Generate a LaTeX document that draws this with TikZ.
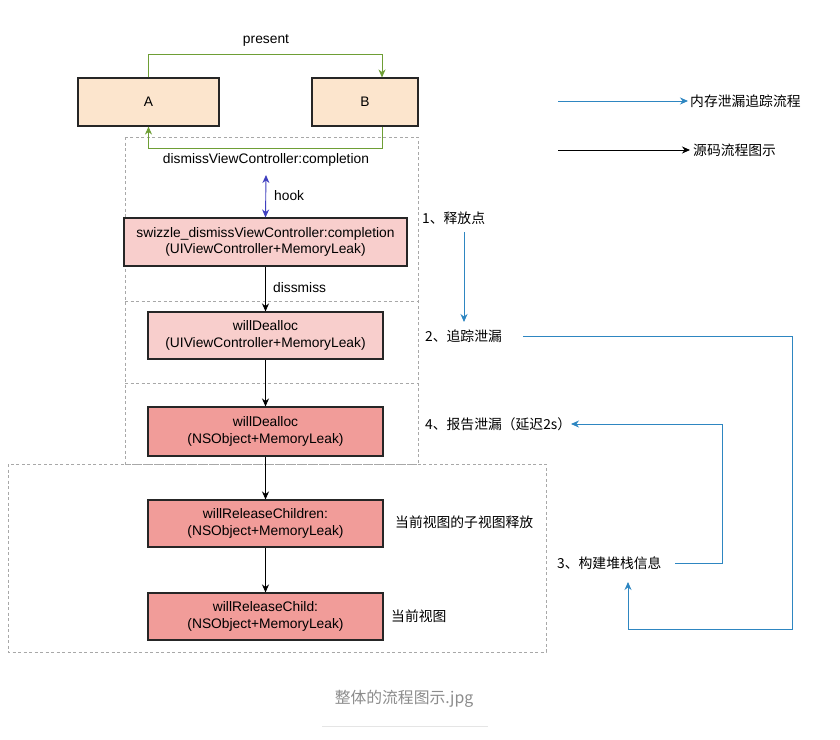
\documentclass[tikz,border=0pt]{standalone}
\usepackage{fontspec}
\setmainfont{Liberation Sans}
\newfontfamily\cjk{Noto Sans CJK SC}
\usetikzlibrary{arrows.meta,calc}
\definecolor{peach}{HTML}{FCE5CD}
\definecolor{lightred}{HTML}{F8CECC}
\definecolor{midred}{HTML}{F19C99}
\definecolor{grn}{HTML}{6E9E35}
\definecolor{hookc}{HTML}{3F3FBF}
\definecolor{flowblue}{HTML}{2E86C1}
\definecolor{dashgray}{HTML}{A8A8A8}
\tikzset{
  box/.style={draw=black!85, line width=1.1pt, minimum width=235pt, minimum height=47pt, inner sep=0pt, align=center, font=\fontsize{13.8}{16.5}\selectfont},
  txt/.style={font=\fontsize{13.8}{16.5}\selectfont, inner sep=0pt},
  ctxt/.style={font=\cjk\fontsize{13.8}{16.5}\selectfont, inner sep=0pt, anchor=west},
  tip/.style={-{Stealth[length=8pt,width=7pt]}},
  region/.style={draw=dashgray, line width=0.7pt, dash pattern=on 3pt off 2.5pt},
  blueline/.style={draw=flowblue, line width=0.9pt},
}
\begin{document}
\begin{tikzpicture}[x=1pt,y=-1pt]
\useasboundingbox (0,0) rectangle (840,739);
\fill[white] (0,0) rectangle (840,739);
% dashed regions
\draw[region] (125,137) rectangle (418,464);
\draw[region] (125,301) -- (418,301);
\draw[region] (125,383) -- (418,383);
\draw[region] (8,464) rectangle (546,652);
% A, B
\node[box, fill=peach, minimum width=141pt, minimum height=48pt] (A) at (148.5,102) {A};
\node[box, fill=peach, minimum width=106pt, minimum height=48pt] (B) at (365,102) {B};
\node[txt] (present) at (266,40) {present};
\draw[grn, line width=0.9pt, tip] (A.north) -- ++(0,-23) -| ([xshift=17pt]B.north);
\draw[grn, line width=0.9pt, tip] ([xshift=17pt]B.south) -- ++(0,22) -| (A.south);
\node[txt] (D) at (266,160) {dismissViewController:completion};
% chain
\node[box, fill=lightred, minimum width=283pt, minimum height=48pt] (S) at (265.5,242) {swizzle\_dismissViewController:completion\\(UIViewController+MemoryLeak)};
\node[box, fill=lightred] (W1) at (265.5,335.5) {willDealloc\\(UIViewController+MemoryLeak)};
\node[box, fill=midred, minimum height=49pt] (W2) at (265.5,431.5) {willDealloc\\(NSObject+MemoryLeak)};
\node[box, fill=midred] (R1) at (265.5,523.5) {willReleaseChildren:\\(NSObject+MemoryLeak)};
\node[box, fill=midred] (R2) at (265.5,616.5) {willReleaseChild:\\(NSObject+MemoryLeak)};
\coordinate (h1) at (266,175);
\draw[hookc, line width=0.9pt, {Stealth[length=8pt,width=7pt]}-{Stealth[length=8pt,width=7pt]}] (h1) -- (S.north);
\node[txt, anchor=west] (hook) at (274,196) {hook};
\node[txt, anchor=west] (dm) at (273,288) {dissmiss};
\draw[black, line width=1pt, tip] (S) -- (W1);
\draw[black, line width=1pt, tip] (W1) -- (W2);
\draw[black, line width=1pt, tip] (W2) -- (R1);
\draw[black, line width=1pt, tip] (R1) -- (R2);
% right labels
\node[ctxt] (L1) at (422,218) {1、释放点};
\node[ctxt] (L2) at (425,336) {2、追踪泄漏};
\node[ctxt] (L3) at (557,563) {3、构建堆栈信息};
\node[ctxt] (L4) at (425,424) {4、报告泄漏（延迟2s）};
\node[ctxt] (C1) at (395,522) {当前视图的子视图释放};
\node[ctxt] (C2) at (391,616) {当前视图};
\coordinate (a1) at (464,232);
\coordinate (a2) at (464,322);
\draw[blueline, tip] (a1) -- (a2);
\coordinate (b1) at (523,336);
\coordinate (b2) at (628,582);
\draw[blueline, tip] (b1) -- (792,336) -- (792,629) -| (b2);
\coordinate (c1) at (675,563);
\coordinate (c2) at (571,424);
\draw[blueline, tip] (c1) -- (722,563) |- (c2);
% legend
\coordinate (lg1) at (558,101);
\coordinate (lg2) at (688,101);
\draw[blueline, tip] (lg1) -- (lg2);
\node[ctxt] (lt1) at (690,101) {内存泄漏追踪流程};
\coordinate (lg3) at (558,150);
\coordinate (lg4) at (690,150);
\draw[black, line width=0.9pt, tip] (lg3) -- (lg4);
\node[ctxt] (lt2) at (693,150) {源码流程图示};
% caption
\node[font=\cjk\fontsize{15.8}{18}\selectfont, text=black!45, inner sep=0pt] (cap) at (404,699) {整体的流程图示.jpg};
\coordinate (u1) at (322,726);
\coordinate (u2) at (488,726);
\draw[black!10, line width=0.6pt] (u1) -- (u2);
\end{tikzpicture}
\end{document}
